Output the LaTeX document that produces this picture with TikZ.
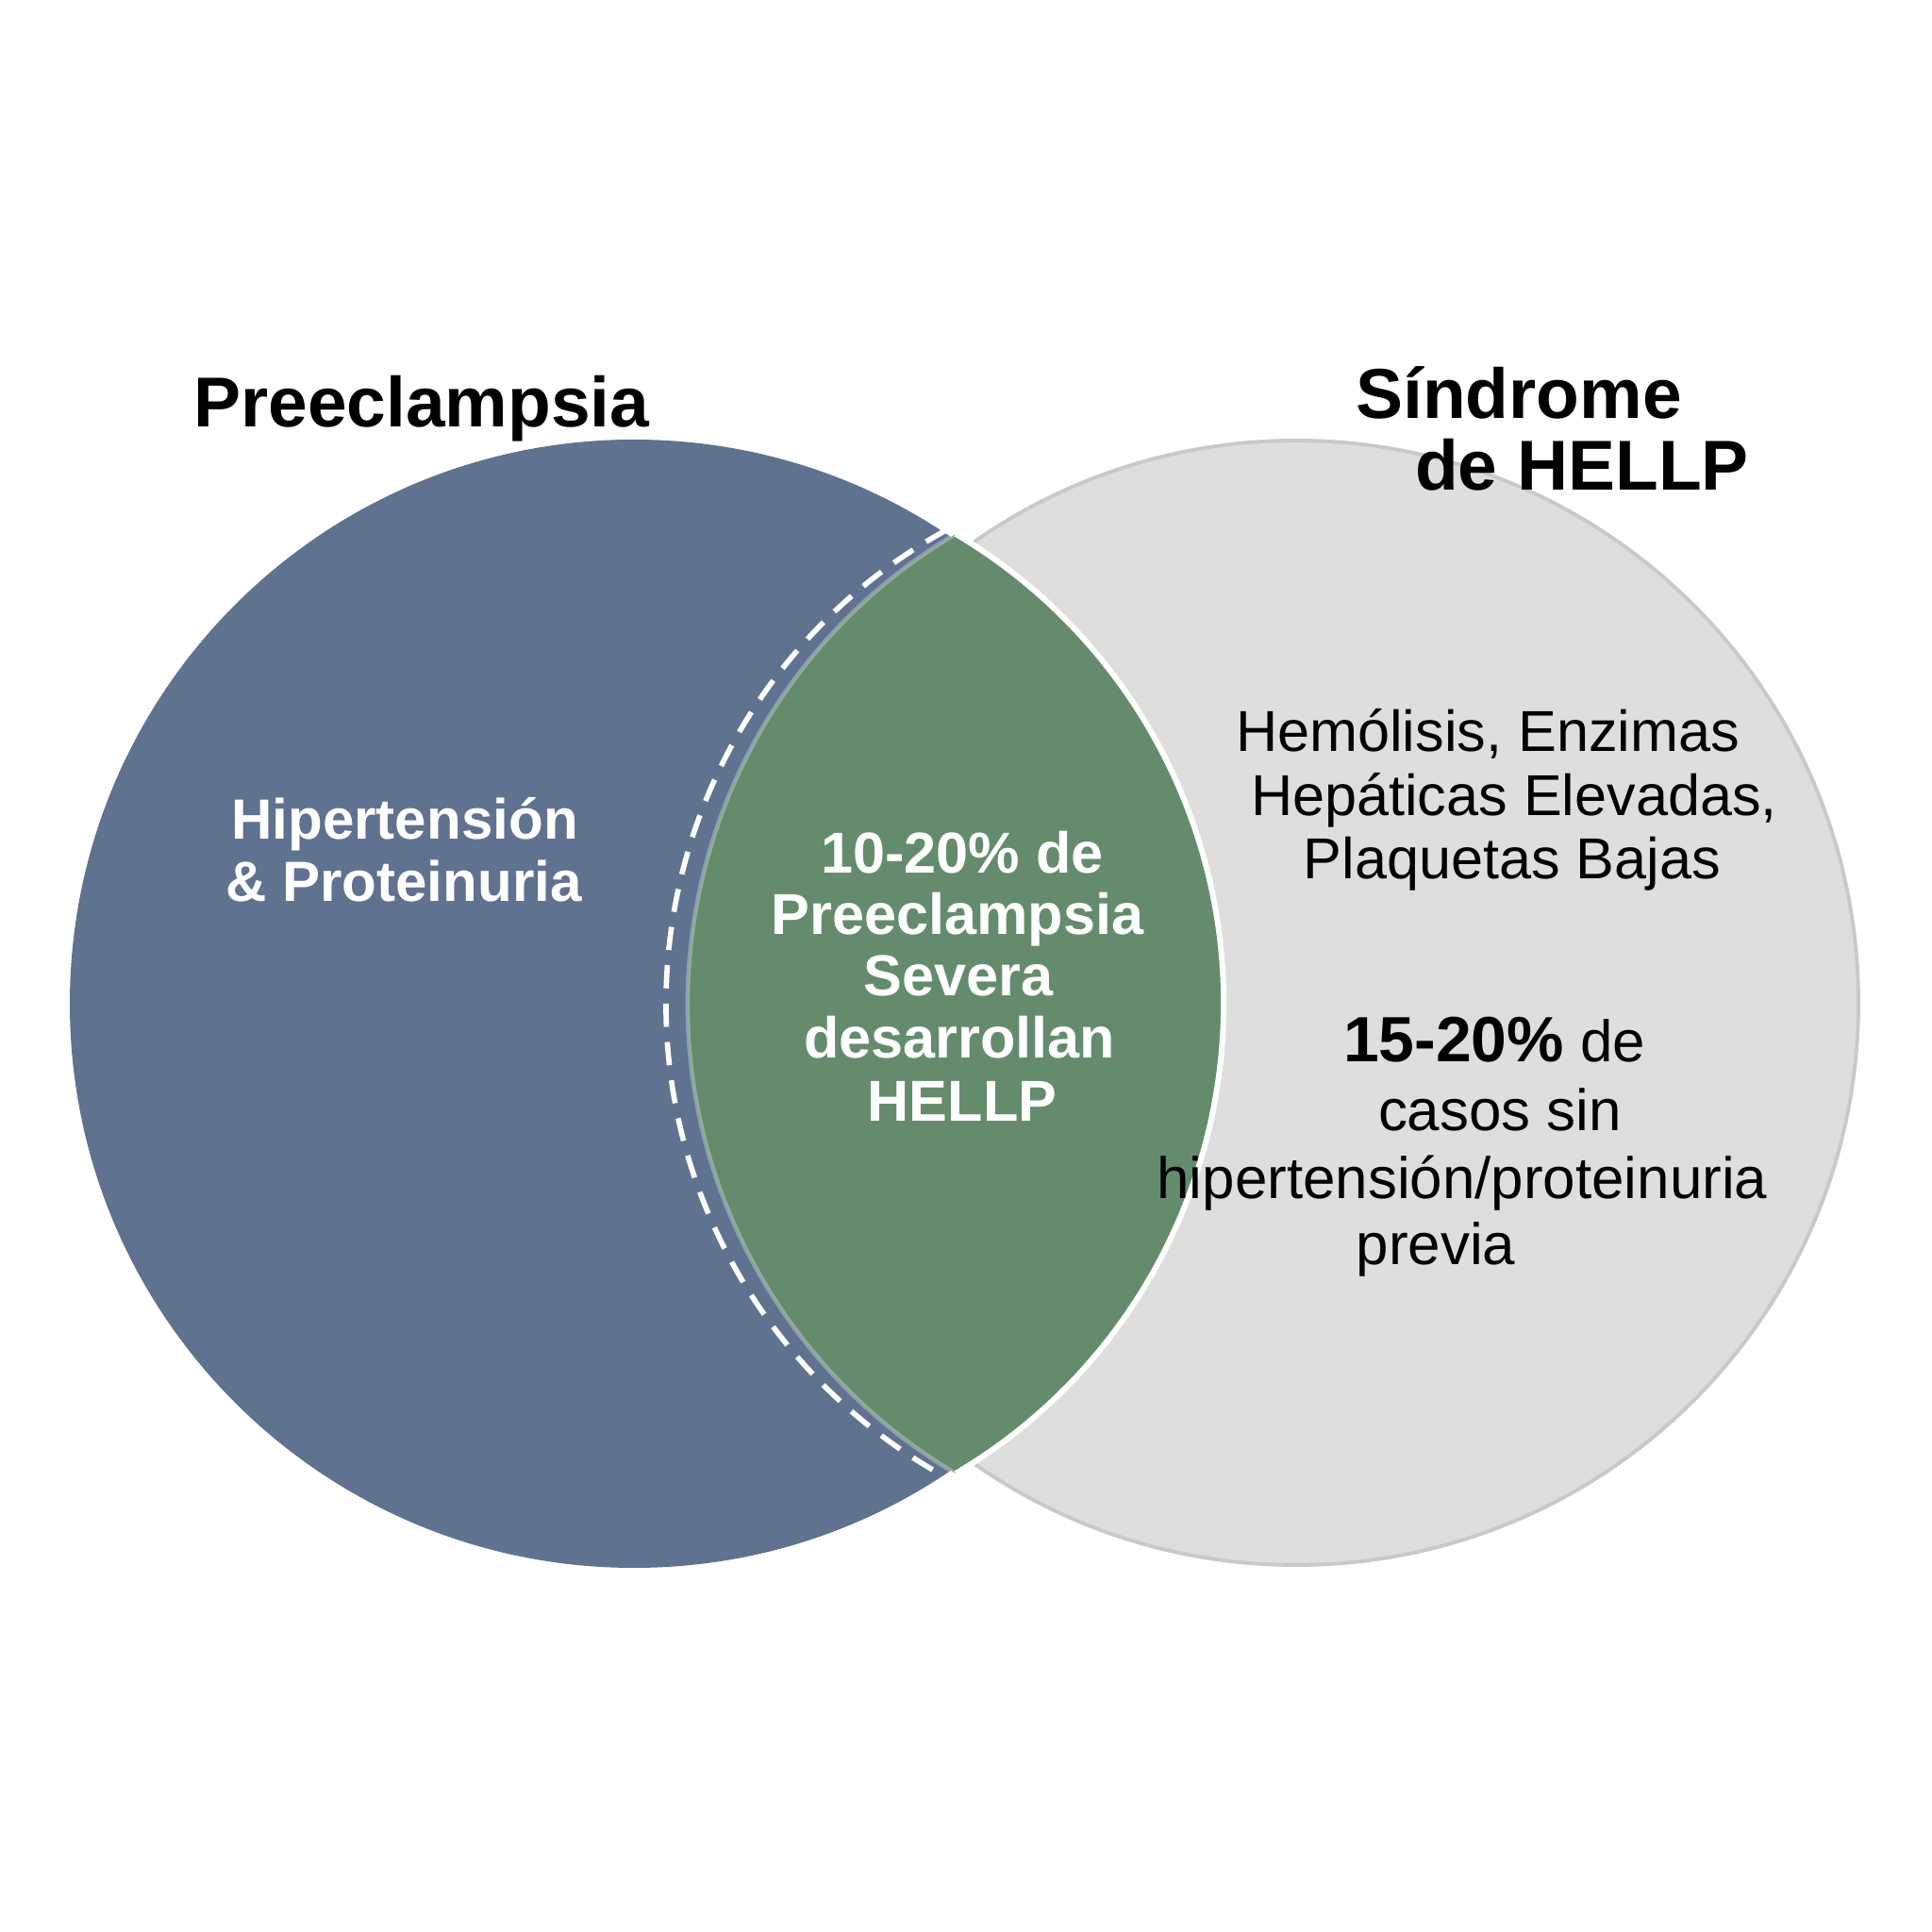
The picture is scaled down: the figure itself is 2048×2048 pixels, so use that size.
\documentclass[tikz,border=0pt]{standalone}
\usepackage{fontspec}
\setmainfont{Liberation Sans}
\definecolor{preblue}{HTML}{5F7290}
\definecolor{lensgreen}{HTML}{648C6C}
\definecolor{hgrey}{HTML}{DEDEDC}
\definecolor{hgreyline}{HTML}{C9C9C7}
\begin{document}
\begin{tikzpicture}[x=0.01cm,y=0.01cm,
  lbl/.style={inner sep=0pt, outer sep=0pt, anchor=base},
  ttl/.style={lbl, font=\fontsize{21.3}{25}\selectfont\bfseries, text=black},
  wb/.style={lbl, font=\fontsize{17.1}{20}\selectfont\bfseries, text=white},
  lensf/.style={lbl, font=\fontsize{17.4}{20}\selectfont\bfseries, text=white},
  rt/.style={lbl, font=\fontsize{17.4}{20}\selectfont, text=black},
  rt2/.style={lbl, font=\fontsize{17.6}{20}\selectfont, text=black},
  lensedge/.style={white, line width=1.7pt},
  dashedge/.style={white, line width=1.6pt, dash pattern=on 7pt off 4.6pt},
]
\fill[white] (0,0) rectangle (2048,2048);
\useasboundingbox (0,0) rectangle (2048,2048);
% circles
\fill[preblue] (672,984) circle[radius=598];
\filldraw[fill=hgrey, draw=hgreyline, line width=1.1pt] (1374,985) circle[radius=596];
% lens
\fill[lensgreen] (1013,1482) arc[start angle=120.6, end angle=239.4, radius=578.6]
  arc[start angle=-59.4, end angle=59.4, radius=578.6] -- cycle;
\draw[lensedge] (1013,486) arc[start angle=-59.4, end angle=59.4, radius=578.6];
\draw[white, opacity=0.3, line width=1.3pt] (1013,1482) arc[start angle=120.6, end angle=239.4, radius=578.6];
\draw[dashedge] (1003,1486) arc[start angle=118.8, end angle=241.2, radius=573];
% titles
\node[ttl] (tpre) at (447,1595) {Preeclampsia};
\node[ttl] (tsin1) at (1610,1604) {Síndrome};
\node[ttl] (tsin2) at (1677,1528) {de HELLP};
% left text
\node[wb] (l1) at (429,1158) {Hipertensión};
\node[wb] (l2) at (428,1092) {\& Proteinuria};
% lens text
\node[lensf] (c1) at (1020,1122) {10-20\% de};
\node[lensf] (c2) at (1015,1057) {Preeclampsia};
\node[lensf] (c3) at (1016,992) {Severa};
\node[lensf] (c4) at (1017,926) {desarrollan};
\node[lensf] (c5) at (1020,859) {HELLP};
% right text
\node[rt] (r1) at (1577,1251) {Hemólisis, Enzimas};
\node[rt] (r2) at (1605,1183) {Hepáticas Elevadas,};
\node[rt] (r3) at (1603,1116) {Plaquetas Bajas};
\node[rt2, anchor=base west] (s1) at (1424,922) {{\fontsize{19.3}{22}\selectfont\bfseries 15-20\%} de};
\node[rt2] (s2) at (1590,849) {casos sin};
\node[rt2] (s3) at (1550,777) {hipertensión/proteinuria};
\node[rt2] (s4) at (1522,707) {previa};
\end{tikzpicture}
\end{document}
